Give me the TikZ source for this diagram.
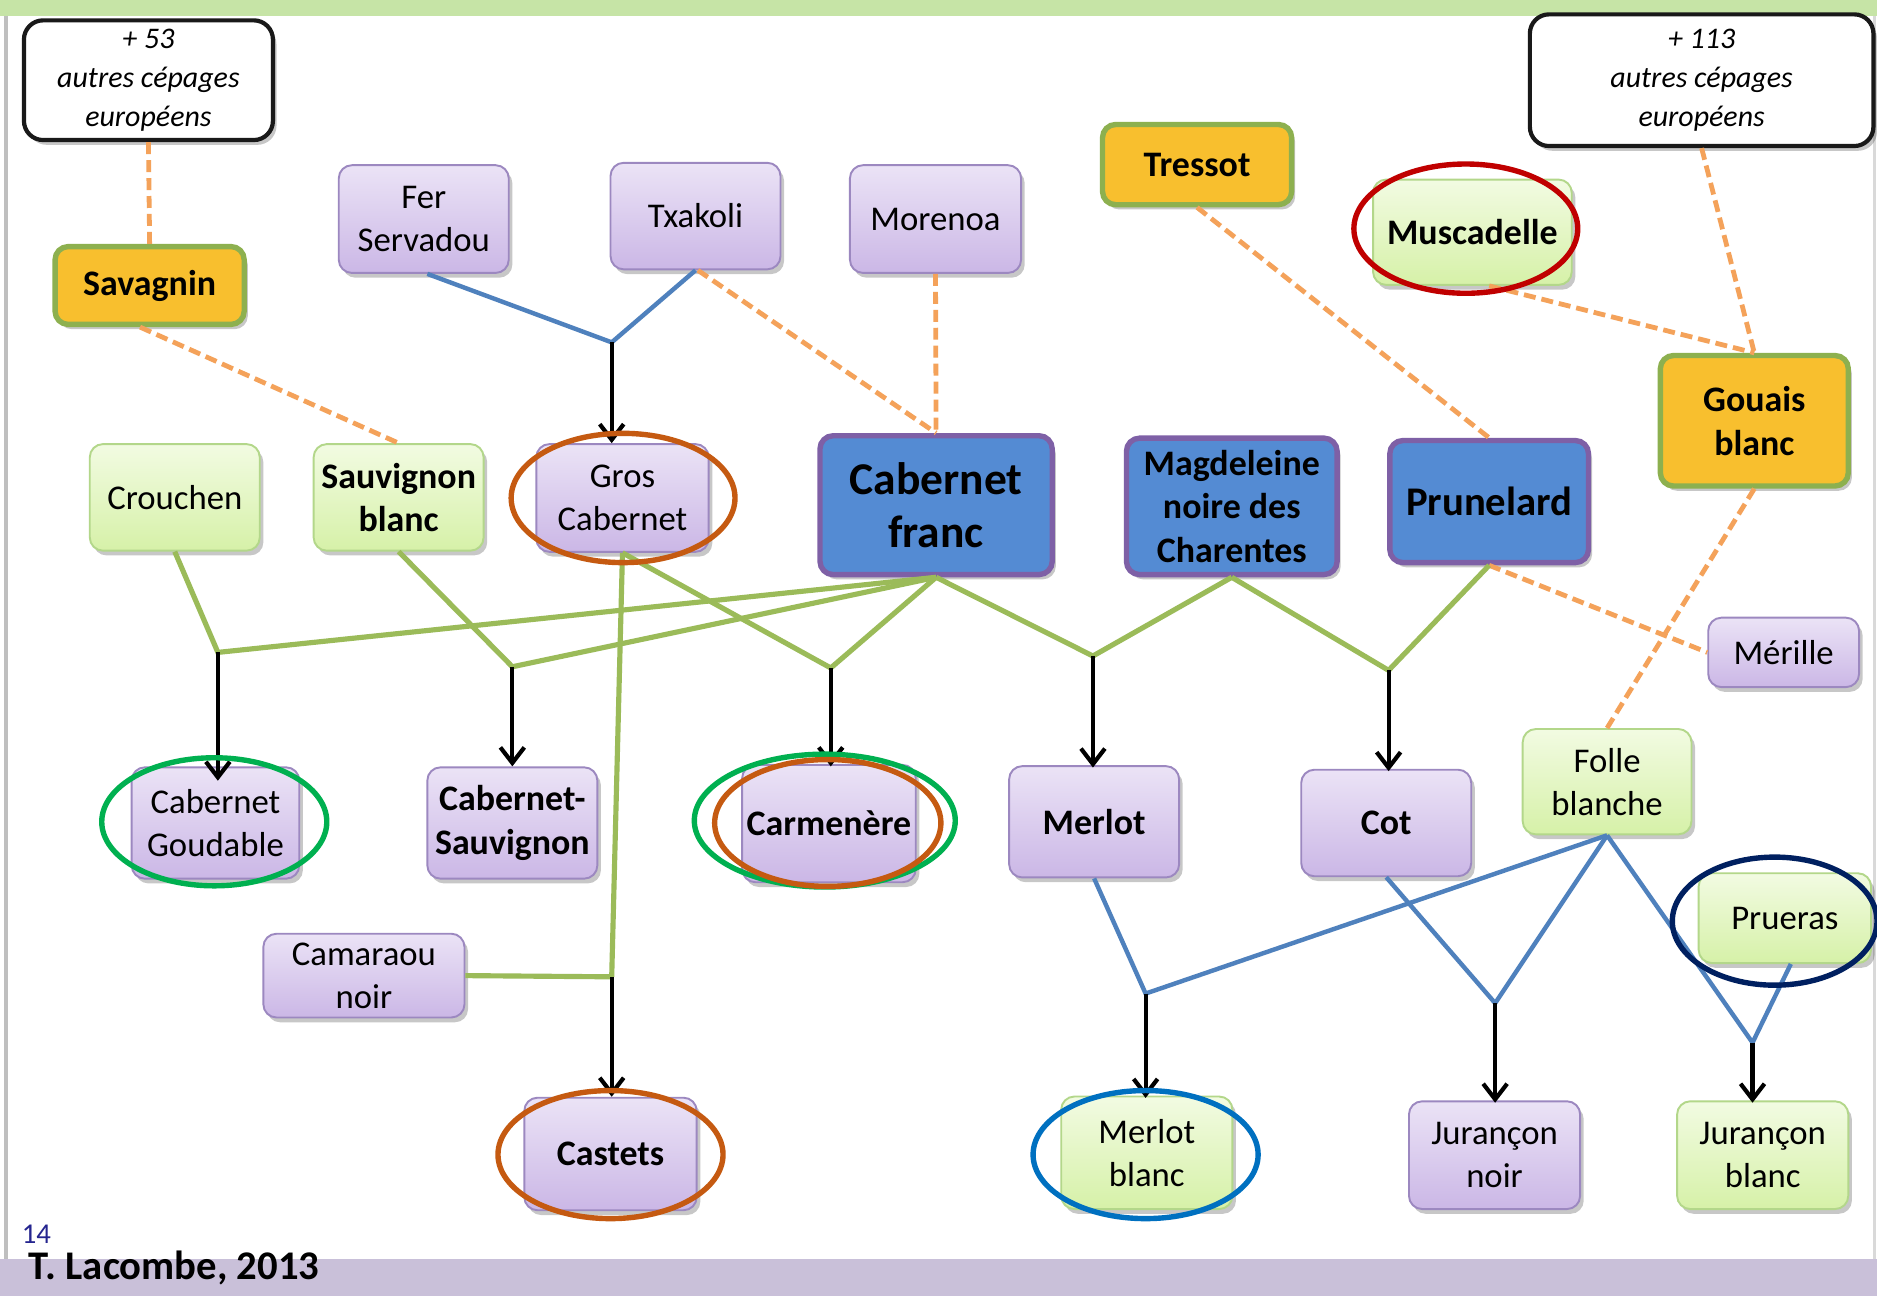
\documentclass[tikz,border=0pt]{standalone}
\usepackage{fontspec}
\setmainfont{Carlito}
\usetikzlibrary{arrows.meta,shadows}
\definecolor{purT}{HTML}{EBE3F6}
\definecolor{purB}{HTML}{CBB7E6}
\definecolor{purD}{HTML}{9C88C0}
\definecolor{grnT}{HTML}{F2FBE2}
\definecolor{grnB}{HTML}{D6F1A8}
\definecolor{grnD}{HTML}{B3D78A}
\definecolor{orgF}{HTML}{F8BF2E}
\definecolor{orgD}{HTML}{8DB04F}
\definecolor{bluF}{HTML}{548BD3}
\definecolor{bluD}{HTML}{7E60A6}
\definecolor{lnGreen}{HTML}{9BBB59}
\definecolor{lnBlue}{HTML}{4F81BD}
\definecolor{lnOrange}{HTML}{F4A25A}
\definecolor{rGreen}{HTML}{00B050}
\definecolor{rOrange}{HTML}{C55A11}
\definecolor{rRed}{HTML}{C00000}
\definecolor{rNavy}{HTML}{002060}
\definecolor{rBlue}{HTML}{0070C0}
\definecolor{topBand}{HTML}{C6E4A6}
\definecolor{botBand}{HTML}{C9C0D9}
\definecolor{pageNum}{HTML}{25258F}
\newcommand{\myfN}{\fontsize{29}{36}\selectfont}
\newcommand{\myfB}{\fontsize{30}{36.5}\selectfont\bfseries}
\newcommand{\myfI}{\fontsize{25}{32.5}\selectfont\itshape}
\tikzset{
  shad/.style={drop shadow={shadow xshift=3pt,shadow yshift=-4pt,opacity=0.22,fill=black}},
  basebox/.style={shad,rounded corners=11pt,align=center,inner sep=0pt,text=black},
  pbox/.style={basebox,draw=purD,line width=1.6pt,top color=purT,bottom color=purB,font=\myfN},
  pboxb/.style={pbox,font=\myfB},
  gbox/.style={basebox,draw=grnD,line width=1.6pt,top color=grnT,bottom color=grnB,font=\myfN},
  gboxb/.style={gbox,font=\myfB},
  obox/.style={basebox,draw=orgD,line width=4.5pt,fill=orgF,font=\myfB},
  bbox/.style={basebox,draw=bluD,line width=4.5pt,fill=bluF,font=\myfB},
  kbox/.style={basebox,draw=black!90,line width=3.5pt,fill=white,rounded corners=16pt,font=\myfI},
  gl/.style={draw=lnGreen,line width=4.3pt},
  bl/.style={draw=lnBlue,line width=3.7pt},
  ol/.style={draw=lnOrange,line width=4pt,dash pattern=on 10pt off 5pt},
  arr/.style={draw=black,line width=3.5pt,-{Straight Barb[length=13pt,width=20pt,line width=3.5pt]}},
  ring/.style={draw=#1,line width=4.5pt}
}
\begin{document}
\begin{tikzpicture}[x=1pt,y=-1pt]
\useasboundingbox (0,0) rectangle (1568,1083);
\fill[white] (0,0) rectangle (1568,1083);
% bands and borders
\fill[topBand] (0,0) rectangle (1568,13);
\fill[botBand] (0,1052) rectangle (1568,1083);
\draw[black!25,line width=3pt] (5,13) -- (5,1052);
\draw[black!15,line width=2pt] (1566,13) -- (1566,1052);
\node[anchor=west,font=\fontsize{24}{26}\selectfont,text=pageNum,inner sep=0pt] (pnum) at (18,1031) {14};
\node[anchor=west,font=\fontsize{34}{38}\selectfont\bfseries,inner sep=0pt] (author) at (24,1059) {T. Lacombe, 2013};

% nodes
\node[kbox,minimum width=208pt,minimum height=100pt] (k53) at (124,67) {+ 53\\autres cépages\\européens};
\node[kbox,minimum width=287pt,minimum height=110pt] (k113) at (1421.5,67) {+ 113\\autres cépages\\européens};
\node[obox,minimum width=158pt,minimum height=65pt] (sava) at (125,238.5) {Savagnin};
\node[pbox,minimum width=142pt,minimum height=90pt] (fer) at (354,183) {Fer\\Servadou};
\node[pbox,minimum width=142pt,minimum height=89pt] (txak) at (581,180.5) {Txakoli};
\node[pbox,minimum width=143pt,minimum height=90pt] (more) at (781.5,183) {Morenoa};
\node[obox,minimum width=158pt,minimum height=67pt] (tres) at (1000,137.5) {Tressot};
\node[gboxb,minimum width=166pt,minimum height=88pt] (musc) at (1230,194) {Muscadelle};
\node[obox,minimum width=157pt,minimum height=109pt] (goua) at (1465.5,351.5) {Gouais\\blanc};
\node[gbox,minimum width=142pt,minimum height=89pt] (crou) at (146,415.5) {Crouchen};
\node[gboxb,minimum width=142pt,minimum height=89pt] (sauv) at (333,415.5) {Sauvignon\\blanc};
\node[pbox,minimum width=144pt,minimum height=90pt] (gros) at (520,416) {Gros\\Cabernet};
\node[bbox,minimum width=194pt,minimum height=116pt,font=\fontsize{38}{45}\selectfont\bfseries] (cabf) at (782,422) {Cabernet\\franc};
\node[bbox,minimum width=176pt,minimum height=114pt] (magd) at (1029,423) {Magdeleine\\noire des\\Charentes};
\node[bbox,minimum width=166pt,minimum height=102pt,font=\fontsize{34}{40}\selectfont\bfseries] (prun) at (1244,419) {Prunelard};
\node[pbox,minimum width=126pt,minimum height=58pt] (meri) at (1490,545) {Mérille};
\node[pbox,minimum width=140pt,minimum height=93pt] (goud) at (180,687.5) {Cabernet\\Goudable};
\node[pboxb,minimum width=142pt,minimum height=93pt] (csau) at (428,687.5) {Cabernet-\\Sauvignon};
\node[pboxb,minimum width=145pt,minimum height=98pt] (carm) at (692.5,688) {Carmenère};
\node[pboxb,minimum width=142pt,minimum height=93pt] (merl) at (914,686.5) {Merlot};
\node[pboxb,minimum width=142pt,minimum height=89pt] (cot) at (1158,687.5) {Cot};
\node[gbox,minimum width=141pt,minimum height=88pt] (foll) at (1342.5,653) {Folle\\blanche};
\node[gbox,minimum width=144pt,minimum height=75pt] (prue) at (1491,767) {Prueras};
\node[pbox,minimum width=168pt,minimum height=70pt] (cama) at (304,815) {Camaraou\\noir};
\node[pboxb,minimum width=144pt,minimum height=94pt] (cast) at (510,964) {Castets};
\node[gbox,minimum width=143pt,minimum height=94pt] (mblc) at (958,963) {Merlot\\blanc};
\node[pbox,minimum width=143pt,minimum height=90pt] (jnoi) at (1248.5,965) {Jurançon\\noir};
\node[gbox,minimum width=143pt,minimum height=90pt] (jbla) at (1472.5,965) {Jurançon\\blanc};

% junctions
\coordinate (j1) at (511,286);
\coordinate (j2) at (182,545);
\coordinate (j3) at (428,557);
\coordinate (j4) at (694,558);
\coordinate (j5) at (913,548);
\coordinate (j6) at (1160,560);
\coordinate (j7) at (511,816);
\coordinate (j8) at (957,830);
\coordinate (j9) at (1249,838);
\coordinate (j10) at (1464,871);

% orange dashed links
\draw[ol] (k53.south) -- (sava.north);
\draw[ol] ([xshift=-8pt]sava.south) -- (sauv.north);
\draw[ol] ([xshift=2pt]txak.south) -- (cabf.north);
\draw[ol] (more.south) -- (cabf.north);
\draw[ol] (tres.south) -- (prun.north);
\draw[ol] ([xshift=14pt]musc.south) -- (goua.north);
\draw[ol] (k113.south) -- (goua.north);
\draw[ol] (prun.south) -- (meri.west);
\draw[ol] (goua.south) -- (foll.north);

% blue parent links
\draw[bl] ([xshift=3pt]fer.south) -- (j1) -- (txak.south);
\draw[bl] (merl.south) -- (j8) -- (foll.south);
\draw[bl] (cot.south) -- (j9) -- (foll.south);
\draw[bl] (foll.south) -- (j10) -- ([xshift=5pt]prue.south);

% green parent links
\draw[gl] (crou.south) -- (j2) -- (cabf.south);
\draw[gl] (sauv.south) -- (j3) -- (cabf.south);
\draw[gl] (gros.south) -- (j4) -- (cabf.south);
\draw[gl] (cabf.south) -- (j5) -- (magd.south);
\draw[gl] (magd.south) -- (j6) -- (prun.south);
\draw[gl] (gros.south) -- (j7);
\draw[gl] (cama.east) -- (j7);

% black arrows
\draw[arr] (j1) -- (j1 |- gros.north);
\draw[arr] (j2) -- ([yshift=-12pt]j2 |- goud.north);
\draw[arr] (j3) -- (j3 |- csau.north);
\draw[arr] (j4) -- ([yshift=-2pt]j4 |- carm.north);
\draw[arr] (j5) -- ([yshift=-2pt]j5 |- merl.north);
\draw[arr] (j6) -- ([yshift=-2pt]j6 |- cot.north);
\draw[arr] (j7) -- (j7 |- cast.north);
\draw[arr] (j8) -- ([yshift=-2pt]j8 |- mblc.north);
\draw[arr] (j9) -- ([yshift=-2pt]j9 |- jnoi.north);
\draw[arr] (j10) -- ([yshift=-2pt]j10 |- jbla.north);

% highlight rings
\draw[ring=rGreen] (179,686.5) ellipse [x radius=94pt,y radius=53.5pt];
\draw[ring=rGreen] (689,685.5) ellipse [x radius=109pt,y radius=55.5pt];
\draw[ring=rOrange] (691.5,687.5) ellipse [x radius=94.5pt,y radius=53pt];
\draw[ring=rOrange] (520.5,416) ellipse [x radius=93.5pt,y radius=54pt];
\draw[ring=rRed] (1224.5,191) ellipse [x radius=93.5pt,y radius=54pt];
\draw[ring=rNavy] (1482.5,769.5) ellipse [x radius=85.5pt,y radius=53.5pt];
\draw[ring=rOrange] (510,964.5) ellipse [x radius=94pt,y radius=53.5pt];
\draw[ring=rBlue] (957,964.5) ellipse [x radius=94pt,y radius=53.5pt];
\end{tikzpicture}
\end{document}
